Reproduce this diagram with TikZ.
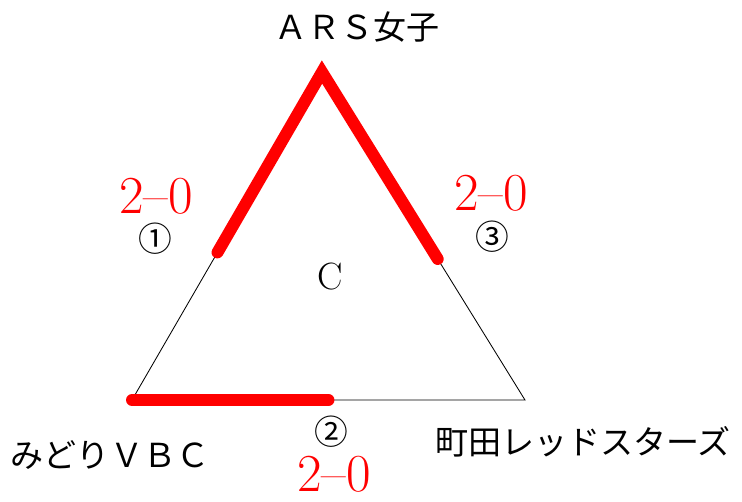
\documentclass[tikz,border=0pt]{standalone}
\usepackage{fontspec}
\usepackage{tikz}
\usetikzlibrary{calc}
\usepackage{xcolor}
\newfontfamily\jpfont{Noto Sans CJK JP}

\begin{document}
\begin{tikzpicture}[x=0.025cm, y=-0.025cm,
    team/.style={font=\jpfont\fontsize{23.5}{27}\selectfont},
    score/.style={text=red, inner sep=0pt, font=\fontsize{38}{40}\selectfont},
    num/.style={inner sep=1pt, font=\jpfont\fontsize{24}{28}\selectfont},
    win/.style={red, line width=8.5pt, line cap=round}]
    \useasboundingbox (0,0) rectangle (742,501);
    \coordinate (ars) at (322,72);
    \coordinate (midori) at (132,400);
    \coordinate (machida) at (525,400);
    \draw[line width=0.6pt] (ars) -- (midori) -- (machida) -- cycle;
    \draw[win] ($(ars)!0.55!(midori)$) -- (ars) -- ($(ars)!0.57!(machida)$);
    \draw[win] (midori) -- ($(midori)!0.5!(machida)$);
    \node[team] (arsname) at (357,27) {ＡＲＳ女子};
    \node[team] (midoriname) at (110,455) {みどりＶＢＣ};
    \node[team] (machidaname) at (583,442) {町田レッドスターズ};
    \node[score] (s1) at (156,196) {2\textendash0};
    \node[score] (s3) at (491,193) {2\textendash0};
    \node[score] (s2) at (334,474) {2\textendash0};
    \node[num] (n1) at (155,239) {①};
    \node[num] (n3) at (492,237) {③};
    \node[num] (n2) at (331,432) {②};
    \node[font=\fontsize{27}{30}\selectfont] (c) at (330,277) {C};
\end{tikzpicture}
\end{document}
